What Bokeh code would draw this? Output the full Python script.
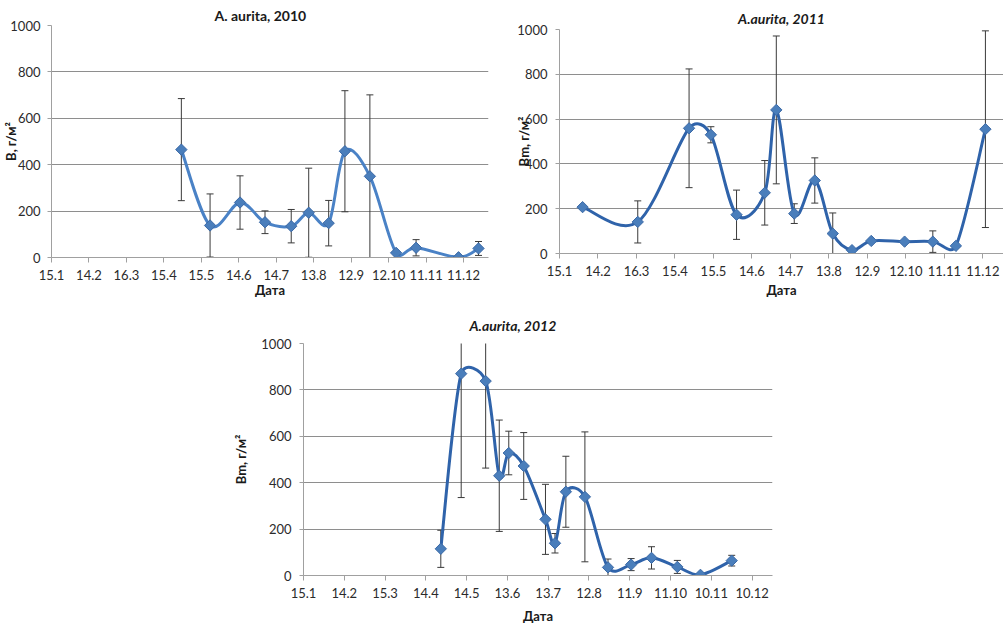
import numpy as np
import pandas as pd
from bokeh.plotting import figure
from bokeh.models import Range1d, FixedTicker, Spacer
from bokeh.layouts import row, column
from bokeh.embed import file_html
from bokeh.resources import INLINE

# ---------------- data ----------------
tick_labels_2010 = ["15.1", "14.2", "16.3", "15.4", "15.5", "14.6", "14.7", "13.8", "12.9", "12.10", "11.11", "11.12"]
tick_labels_2011 = ["15.1", "14.2", "16.3", "15.4", "15.5", "14.6", "14.7", "13.8", "12.9", "12.10", "11.11", "11.12"]
tick_labels_2012 = ["15.1", "14.2", "15.3", "14.4", "14.5", "13.6", "13.7", "12.8", "11.9", "11.10", "10.11", "10.12"]

dates_2010 = ["2010-04-29", "2010-05-22", "2010-06-15", "2010-07-05", "2010-07-26", "2010-08-09",
              "2010-08-25", "2010-09-07", "2010-09-27", "2010-10-18", "2010-11-03", "2010-12-07", "2010-12-23"]
bm_2010 = [465, 138, 237, 152, 135, 193, 148, 458, 350, 20, 42, 1, 39]
err_2010 = [220, 136, 115, 49, 72, 192, 98, 261, 351, 0, 35, 0, 30]

dates_2011 = ["2011-02-02", "2011-03-17", "2011-04-26", "2011-05-13", "2011-06-02", "2011-06-24",
              "2011-07-03", "2011-07-17", "2011-08-02", "2011-08-16", "2011-08-31", "2011-09-15",
              "2011-10-11", "2011-11-02", "2011-11-20", "2011-12-13"]
bm_2011 = [207, 141, 559, 530, 173, 271, 641, 178, 326, 89, 15, 56, 53, 53, 34, 555]
err_2011 = [0, 94, 265, 36, 110, 144, 330, 44, 101, 92, 0, 0, 0, 48, 0, 439]

dates_2012 = ["2012-04-25", "2012-05-10", "2012-05-28", "2012-06-07", "2012-06-14", "2012-06-25",
              "2012-07-11", "2012-07-18", "2012-07-26", "2012-08-09", "2012-08-26", "2012-09-12",
              "2012-09-27", "2012-10-16", "2012-11-02", "2012-11-25"]
bm_2012 = [115, 870, 838, 430, 528, 472, 242, 139, 361, 339, 35, 47, 76, 37, 3, 64]
err_2012 = [80, 534, 375, 240, 94, 144, 151, 42, 153, 280, 36, 26, 48, 28, 0, 23]

FONT = "Lato"
GRID = "#8e8e8e"
AXIS = "#a0a0a0"
ERR = "#3a3a3a"
MARK_FILL = "#4a7ebb"
MARK_LINE = "#3b69a6"
TEXT = "#1a1a1a"


def day_offset(dates, year):
    d = pd.to_datetime(pd.Series(dates))
    return (d - pd.Timestamp(f"{year}-01-15")).dt.days.to_numpy().astype(float)


def smooth_segments(x, y, sx, sy):
    """Bezier control points of a spreadsheet-style smoothed line (computed in pixel space)."""
    X = np.asarray(x, float) * sx
    Y = np.asarray(y, float) * sy
    n = len(X)
    out = {k: [] for k in ("x0", "y0", "x1", "y1", "cx0", "cy0", "cx1", "cy1")}
    for i in range(n - 1):
        a, b = max(i - 1, 0), min(i + 2, n - 1)
        p0 = np.array([X[a], Y[a]]); p1 = np.array([X[i], Y[i]])
        p2 = np.array([X[i + 1], Y[i + 1]]); p3 = np.array([X[b], Y[b]])
        d = np.hypot(*(p2 - p1))
        t1 = p2 - p0; l1 = np.hypot(*t1)
        t2 = p3 - p1; l2 = np.hypot(*t2)
        c0 = p1 + (t1 / l1 * min(l1 / 6, d / 2) if l1 > 0 else 0)
        c1 = p2 - (t2 / l2 * min(l2 / 6, d / 2) if l2 > 0 else 0)
        for k, v in (("x0", p1[0] / sx), ("y0", p1[1] / sy), ("x1", p2[0] / sx), ("y1", p2[1] / sy),
                     ("cx0", c0[0] / sx), ("cy0", c0[1] / sy), ("cx1", c1[0] / sx), ("cy1", c1[1] / sy)):
            out[k].append(v)
    return out


def make_panel(width, height, left, right, top, bottom, xmax, ticklabels,
               dates, year, vals, errs, line_color, ylabel, title, title_italic,
               title_standoff, title_align, title_offset, ylab_standoff, xlab_standoff, y_standoff=8):
    p = figure(width=width, height=height, output_backend="svg", toolbar_location=None,
               x_range=Range1d(0, xmax), y_range=Range1d(0, 1000),
               min_border_left=left, min_border_right=right,
               min_border_top=top, min_border_bottom=bottom)
    p.frame_align = False
    p.outline_line_color = None
    p.background_fill_color = "white"
    p.border_fill_color = "white"

    p.title.text = title
    p.title.align = title_align
    p.title.offset = title_offset
    p.title.standoff = title_standoff
    p.title.text_font = FONT
    p.title.text_font_size = "14px"
    p.title.text_font_style = "bold italic" if title_italic else "bold"
    p.title.text_color = TEXT

    xt = [30 * i for i in range(len(ticklabels))]
    p.xaxis.ticker = FixedTicker(ticks=xt)
    p.xaxis.major_label_overrides = {t: lab for t, lab in zip(xt, ticklabels)}
    p.yaxis.ticker = FixedTicker(ticks=[0, 200, 400, 600, 800, 1000])
    for ax in (p.xaxis[0], p.yaxis[0]):
        ax.axis_line_color = AXIS
        ax.major_tick_line_color = AXIS
        ax.minor_tick_line_color = None
        ax.major_tick_in = 0
        ax.major_label_text_font = FONT
        ax.major_label_text_font_size = "13px"
        ax.major_label_text_color = "#2b2b2b"
        ax.axis_label_text_font = FONT
        ax.axis_label_text_font_size = "13px"
        ax.axis_label_text_font_style = "bold"
        ax.axis_label_text_color = TEXT
    p.xaxis.major_tick_out = 5
    p.yaxis.major_tick_out = 4
    p.xaxis.major_label_standoff = 7
    p.yaxis.major_label_standoff = y_standoff
    p.yaxis.axis_label = ylabel
    p.yaxis.axis_label_standoff = ylab_standoff
    p.xaxis.axis_label = "Дата"
    p.xaxis.axis_label_standoff = xlab_standoff

    p.xgrid.visible = False
    p.ygrid.ticker = FixedTicker(ticks=[200, 400, 600, 800, 1000])
    p.ygrid.grid_line_color = GRID
    p.ygrid.grid_line_width = 1

    x = day_offset(dates, year)
    v = np.asarray(vals, float)
    e = np.asarray(errs, float)
    m = e > 0
    # error bars
    p.segment(x0=x[m], y0=v[m] - e[m], x1=x[m], y1=v[m] + e[m], line_color=ERR, line_width=1)
    p.scatter(x=x[m], y=v[m] + e[m], marker="dash", size=7, line_color=ERR, line_width=1)
    p.scatter(x=x[m], y=v[m] - e[m], marker="dash", size=7, line_color=ERR, line_width=1)
    # smoothed line
    fw = width - left - right
    fh = height - top - bottom
    p.bezier(**smooth_segments(x, v, fw / xmax, fh / 1000.0),
             line_color=line_color, line_width=3, line_cap="round")
    # markers
    p.scatter(x=x, y=v, marker="square", angle=np.pi / 4, size=8,
              fill_color=MARK_FILL, line_color=MARK_LINE, line_width=1)
    return p


p1 = make_panel(500, 300, 48, 12, 25, 43, 350, tick_labels_2010, dates_2010, 2010,
                bm_2010, err_2010, "#4a82c6", "В, г/м²", "A. aurita, 2010", False,
                title_standoff=4, title_align="left", title_offset=163,
                ylab_standoff=-12, xlab_standoff=-1, y_standoff=7)
p2 = make_panel(503, 300, 59, 0, 29, 47, 346.1, tick_labels_2011, dates_2011, 2011,
                bm_2011, err_2011, "#2f63aa", "Вm, г/м²", "A.aurita, 2011", True,
                title_standoff=6, title_align="center", title_offset=0,
                ylab_standoff=-18, xlab_standoff=3)
p3 = make_panel(560, 328, 65, 18, 43, 53, 345, tick_labels_2012, dates_2012, 2012,
                bm_2012, err_2012, "#2f63aa", "Вm, г/м²", "A.aurita, 2012", True,
                title_standoff=19, title_align="left", title_offset=166,
                ylab_standoff=9, xlab_standoff=7)

layout = column(row(p1, p2), row(Spacer(width=230, height=328), p3))
open("out.html", "w").write(file_html(layout, INLINE))
